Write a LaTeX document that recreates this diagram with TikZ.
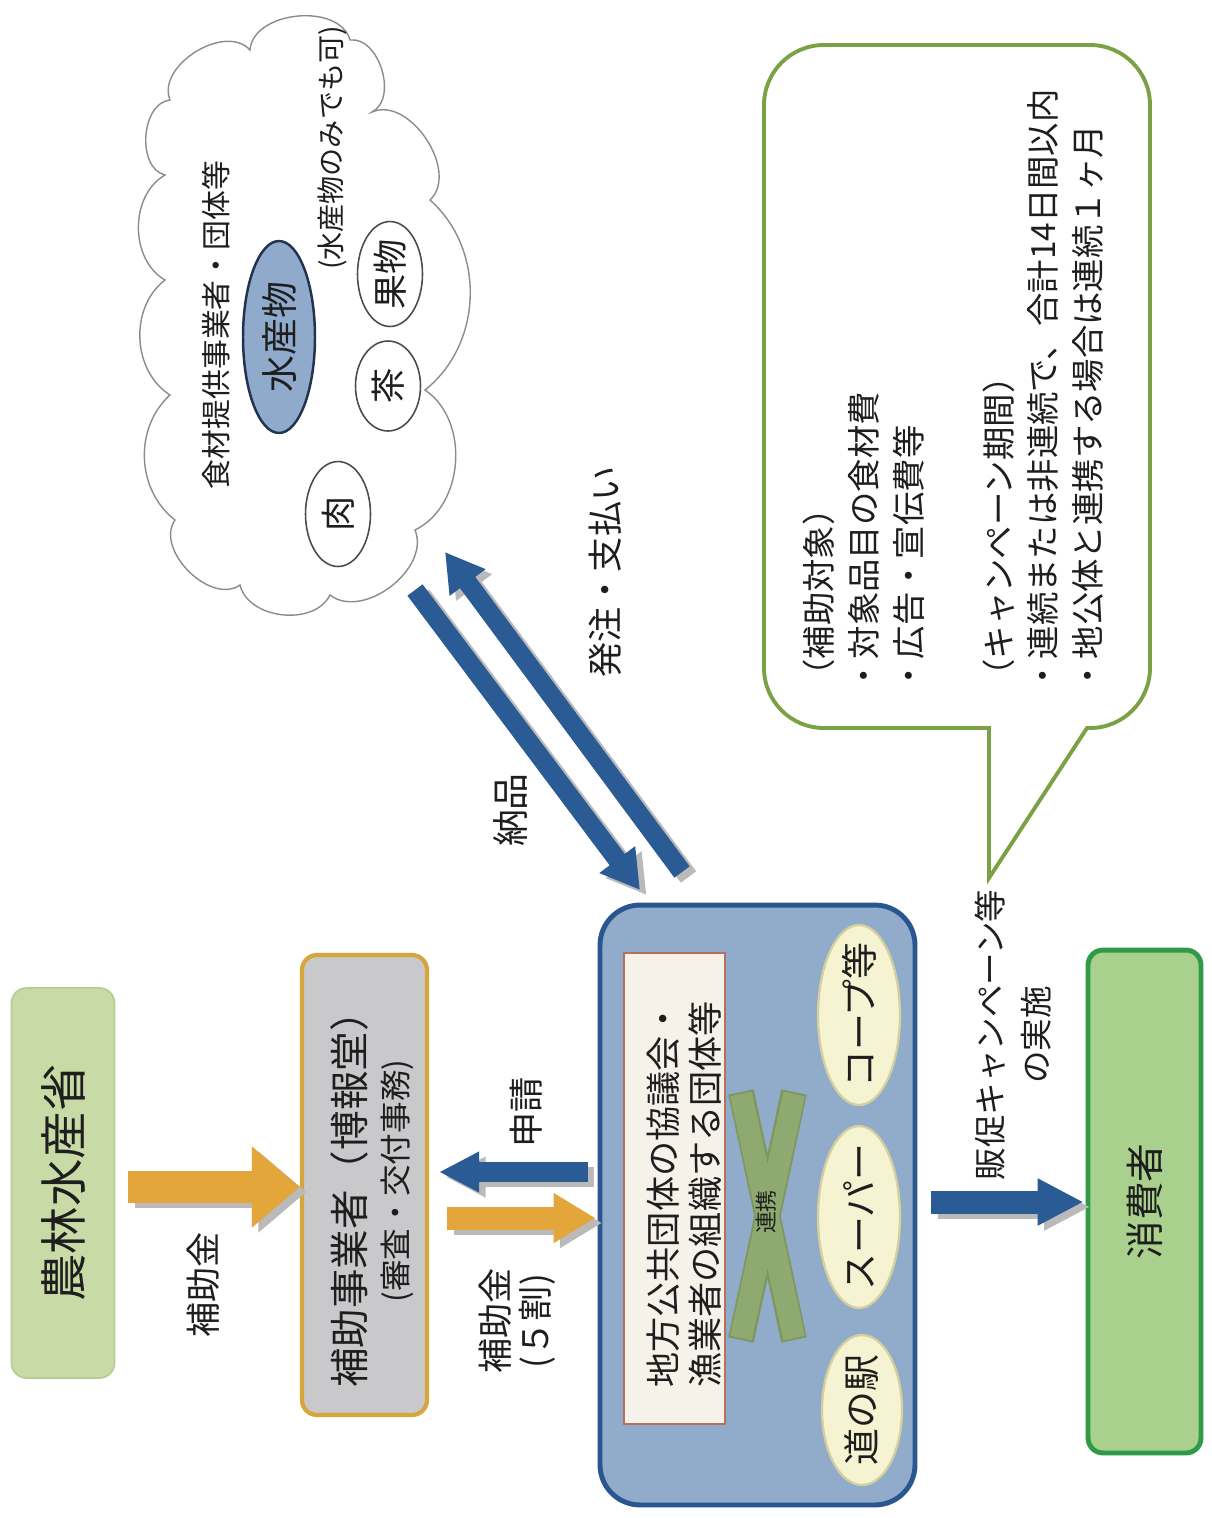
\documentclass[tikz,border=0pt]{standalone}
\usepackage{fontspec}
\setmainfont{Noto Sans CJK JP}
\usetikzlibrary{arrows.meta,shapes.geometric,calc}
\definecolor{orA}{HTML}{E3A63A}
\definecolor{blA}{HTML}{2A5B95}
\definecolor{nourinF}{HTML}{C8DBA6}
\definecolor{nourinD}{HTML}{B7CD95}
\definecolor{hojoF}{HTML}{C9C9CC}
\definecolor{hojoD}{HTML}{D6A53C}
\definecolor{bigF}{HTML}{91ABCB}
\definecolor{bigD}{HTML}{2A5690}
\definecolor{ellF}{HTML}{F6F3D2}
\definecolor{ellD}{HTML}{D3D09C}
\definecolor{innF}{HTML}{F6F2EA}
\definecolor{innD}{HTML}{B8705E}
\definecolor{xF}{HTML}{8FAA70}
\definecolor{xD}{HTML}{7D975F}
\definecolor{conF}{HTML}{A9D08C}
\definecolor{conD}{HTML}{2F9A48}
\definecolor{bubD}{HTML}{7AA244}
\definecolor{cloudD}{HTML}{8C8C8C}
\definecolor{suiF}{HTML}{8FAACB}
\definecolor{suiD}{HTML}{22324F}
\definecolor{txtC}{HTML}{1E1E1E}
\begin{document}
\begin{tikzpicture}[x=0.02cm,y=-0.02cm,
  lbl/.style={rotate=90,inner sep=0pt,text=txtC},
  fbox/.style={rectangle,inner sep=0pt},
  oval/.style={ellipse,inner sep=0pt,fill=ellF,draw=ellD,line width=1.3pt},
  food/.style={ellipse,inner sep=0pt,fill=white,draw=black!70,line width=0.9pt},
  shd/.style={draw=black!27,transform canvas={shift={(0.13cm,-0.1cm)}}},
  orarr/.style={draw=orA},
  blarr/.style={draw=blA},
]
\fill[white] (0,0) rectangle (1212,1518);
\useasboundingbox (0,0) rectangle (1212,1518);

% ---------- left column boxes
\node[fbox,fill=nourinF,draw=nourinD,line width=1pt,rounded corners=0.3cm,minimum width=2.06cm,minimum height=7.8cm] (nourin) at (63,1183) {};
\node[lbl,font=\fontsize{27pt}{32pt}\selectfont] (tnourin) at (nourin.center) {農林水産省};

\node[fbox,fill=hojoF,draw=hojoD,line width=2.4pt,rounded corners=0.3cm,minimum width=2.5cm,minimum height=9.2cm] (hojo) at (364.5,1185) {};
\node[lbl,font=\fontsize{22.5pt}{26pt}\selectfont] (thojo1) at (349,1190) {補助事業者（博報堂）};
\node[lbl,font=\fontsize{18pt}{22pt}\selectfont] (thojo2) at (397,1181) {(審査・交付事務)};

% ---------- big box
\node[fbox,fill=bigF,draw=bigD,line width=2.8pt,rounded corners=0.8cm,minimum width=6.3cm,minimum height=12cm] (big) at (757.5,1205) {};
\node[fbox,fill=innF,draw=innD,line width=0.8pt,minimum width=2.02cm,minimum height=9.42cm] (inner) at (674.5,1188.5) {};
\node[lbl,anchor=west,align=left,font=\fontsize{20pt}{23.8pt}\selectfont] (tinner) at (684,1388) {地方公共団体の協議会・\\漁業者の組織する団体等};
\draw[xD,line width=0.52cm] (741,1092) -- (794,1340) (794,1092) -- (741,1340);
\draw[xF,line width=0.44cm] (741,1094) -- (794,1338) (794,1094) -- (741,1338);
\node[lbl,font=\fontsize{12.5pt}{14pt}\selectfont] (renkei) at (766,1212) {連携};
\node[oval,minimum width=1.64cm,minimum height=3.6cm] (coop) at (859,1015) {};
\node[lbl,font=\fontsize{21pt}{24pt}\selectfont] at (coop.center) {コープ等};
\node[oval,minimum width=1.64cm,minimum height=3.64cm] (super) at (859,1217) {};
\node[lbl,font=\fontsize{21pt}{24pt}\selectfont] at (super.center) {スーパー};
\node[oval,minimum width=1.6cm,minimum height=3.0cm] (eki) at (862,1410) {};
\node[lbl,font=\fontsize{21pt}{24pt}\selectfont] at (eki.center) {道の駅};

% ---------- consumer
\node[fbox,fill=conF,draw=conD,line width=2.8pt,rounded corners=0.3cm,minimum width=2.26cm,minimum height=10.06cm] (con) at (1144.5,1201.5) {};
\node[lbl,font=\fontsize{22pt}{26pt}\selectfont] at (con.center) {消費者};

% ---------- cloud
\draw[draw=cloudD,line width=0.8pt,fill=white]
  (170,100) to[bend left=80] (250,50) to[bend left=80] (350,40) to[bend left=80] (372,112)
  to[bend left=80] (430,200) to[bend left=50] (425,390) to[bend left=60] (415,530)
  to[bend left=75] (330,595) to[bend left=70] (240,585) to[bend left=80] (175,520)
  to[bend left=50] (170,395) to[bend left=55] (165,280) to[bend left=60] (165,175)
  to[bend left=80] (170,100) -- cycle;
\node[lbl,font=\fontsize{17pt}{20pt}\selectfont] (tcloud1) at (216,325) {食材提供事業者・団体等};
\node[lbl,font=\fontsize{16pt}{20pt}\selectfont] (tcloud2) at (332,148) {(水産物のみでも可)};
\node[ellipse,inner sep=0pt,fill=suiF,draw=suiD,line width=1.4pt,minimum width=1.44cm,minimum height=3.84cm] (sui) at (279,337) {};
\node[lbl,font=\fontsize{21pt}{24pt}\selectfont] at (sui.center) {水産物};
\node[food,minimum width=1.3cm,minimum height=2.1cm] (kuda) at (390,274) {};
\node[lbl,font=\fontsize{20pt}{24pt}\selectfont] at (kuda.center) {果物};
\node[food,minimum width=1.3cm,minimum height=1.8cm] (cha) at (388,386) {};
\node[lbl,font=\fontsize{20pt}{24pt}\selectfont] at (cha.center) {茶};
\node[food,minimum width=1.3cm,minimum height=2.1cm] (niku) at (338,514) {};
\node[lbl,font=\fontsize{20pt}{24pt}\selectfont] at (niku.center) {肉};

% ---------- bubble
\draw[draw=bubD,line width=2.2pt,fill=white,line join=miter] (989,878) -- (1087,728) -- (1090,728)
  arc[start angle=90,end angle=0,radius=60] -- (1150,105)
  arc[start angle=0,end angle=-90,radius=60] -- (824,45)
  arc[start angle=-90,end angle=-180,radius=60] -- (764,668)
  arc[start angle=180,end angle=90,radius=60] -- (989,728) -- cycle;
\node[lbl,anchor=north west,align=left,font=\fontsize{19pt}{25.5pt}\selectfont] (bubtext) at (803,693)
 {（補助対象）\\・対象品目の食材費\\・広告・宣伝費等\\[25.5pt]（キャンペーン期間）\\・連続または非連続で、合計14日間以内\\・地公体と連携する場合は連続１ヶ月};

% ---------- coordinates for arrows
\coordinate (ra) at (0,1187);
\coordinate (rb) at (0,1172);
\coordinate (rc) at (0,1218);
\coordinate (rd) at (0,1202);
\coordinate (c1) at (415,590);
\coordinate (b1) at (640,890);
\coordinate (b2) at (682,872);
\coordinate (c2) at (445,552);

% shadows
\draw[shd,line width=0.64cm,shorten <=0.26cm,-{Triangle[length=0.96cm,width=1.56cm]}] (nourin.east|-ra) -- (hojo.west|-ra);
\draw[shd,line width=0.4cm,shorten <=0.2cm,shorten >=0.2cm,-{Triangle[length=0.8cm,width=0.76cm]}] (big.west|-rb) -- (hojo.east|-rb);
\draw[shd,line width=0.46cm,shorten <=0.36cm,shorten >=0.04cm,-{Triangle[length=0.84cm,width=0.94cm]}] (hojo.east|-rc) -- (big.west|-rc);
\draw[shd,line width=0.46cm,shorten <=0.28cm,shorten >=0.04cm,-{Triangle[length=0.92cm,width=0.88cm]}] (big.east|-rd) -- (con.west|-rd);
\draw[shd,line width=0.38cm,-{Triangle[length=0.76cm,width=0.84cm]}] (c1) -- (b1);
\draw[shd,line width=0.38cm,-{Triangle[length=0.76cm,width=0.84cm]}] (b2) -- (c2);

% arrows
\draw[orarr,line width=0.64cm,shorten <=0.26cm,-{Triangle[length=0.96cm,width=1.56cm]}] (nourin.east|-ra) -- (hojo.west|-ra);
\draw[blarr,line width=0.4cm,shorten <=0.2cm,shorten >=0.2cm,-{Triangle[length=0.8cm,width=0.76cm]}] (big.west|-rb) -- (hojo.east|-rb);
\draw[orarr,line width=0.46cm,shorten <=0.36cm,shorten >=0.04cm,-{Triangle[length=0.84cm,width=0.94cm]}] (hojo.east|-rc) -- (big.west|-rc);
\draw[blarr,line width=0.46cm,shorten <=0.28cm,shorten >=0.04cm,-{Triangle[length=0.92cm,width=0.88cm]}] (big.east|-rd) -- (con.west|-rd);
\draw[blarr,line width=0.38cm,-{Triangle[length=0.76cm,width=0.84cm]}] (c1) -- (b1);
\draw[blarr,line width=0.38cm,-{Triangle[length=0.76cm,width=0.84cm]}] (b2) -- (c2);

% arrow labels
\node[lbl,font=\fontsize{20pt}{24pt}\selectfont] (lhojo) at (203,1285) {補助金};
\node[lbl,font=\fontsize{20pt}{24pt}\selectfont] (lshin) at (526,1112) {申請};
\node[lbl,align=center,font=\fontsize{20pt}{22.7pt}\selectfont] (lhojo5) at (517,1321) {補助金\\(５割)};
\node[lbl,align=center,font=\fontsize{18.5pt}{26pt}\selectfont] (lhan) at (1013,1035) {販促キャンペーン等\\の実施};
\node[lbl,font=\fontsize{21pt}{24pt}\selectfont] (lnou) at (510,810) {納品};
\node[lbl,font=\fontsize{20pt}{24pt}\selectfont] (lhat) at (605,572) {発注・支払い};
\end{tikzpicture}
\end{document}
